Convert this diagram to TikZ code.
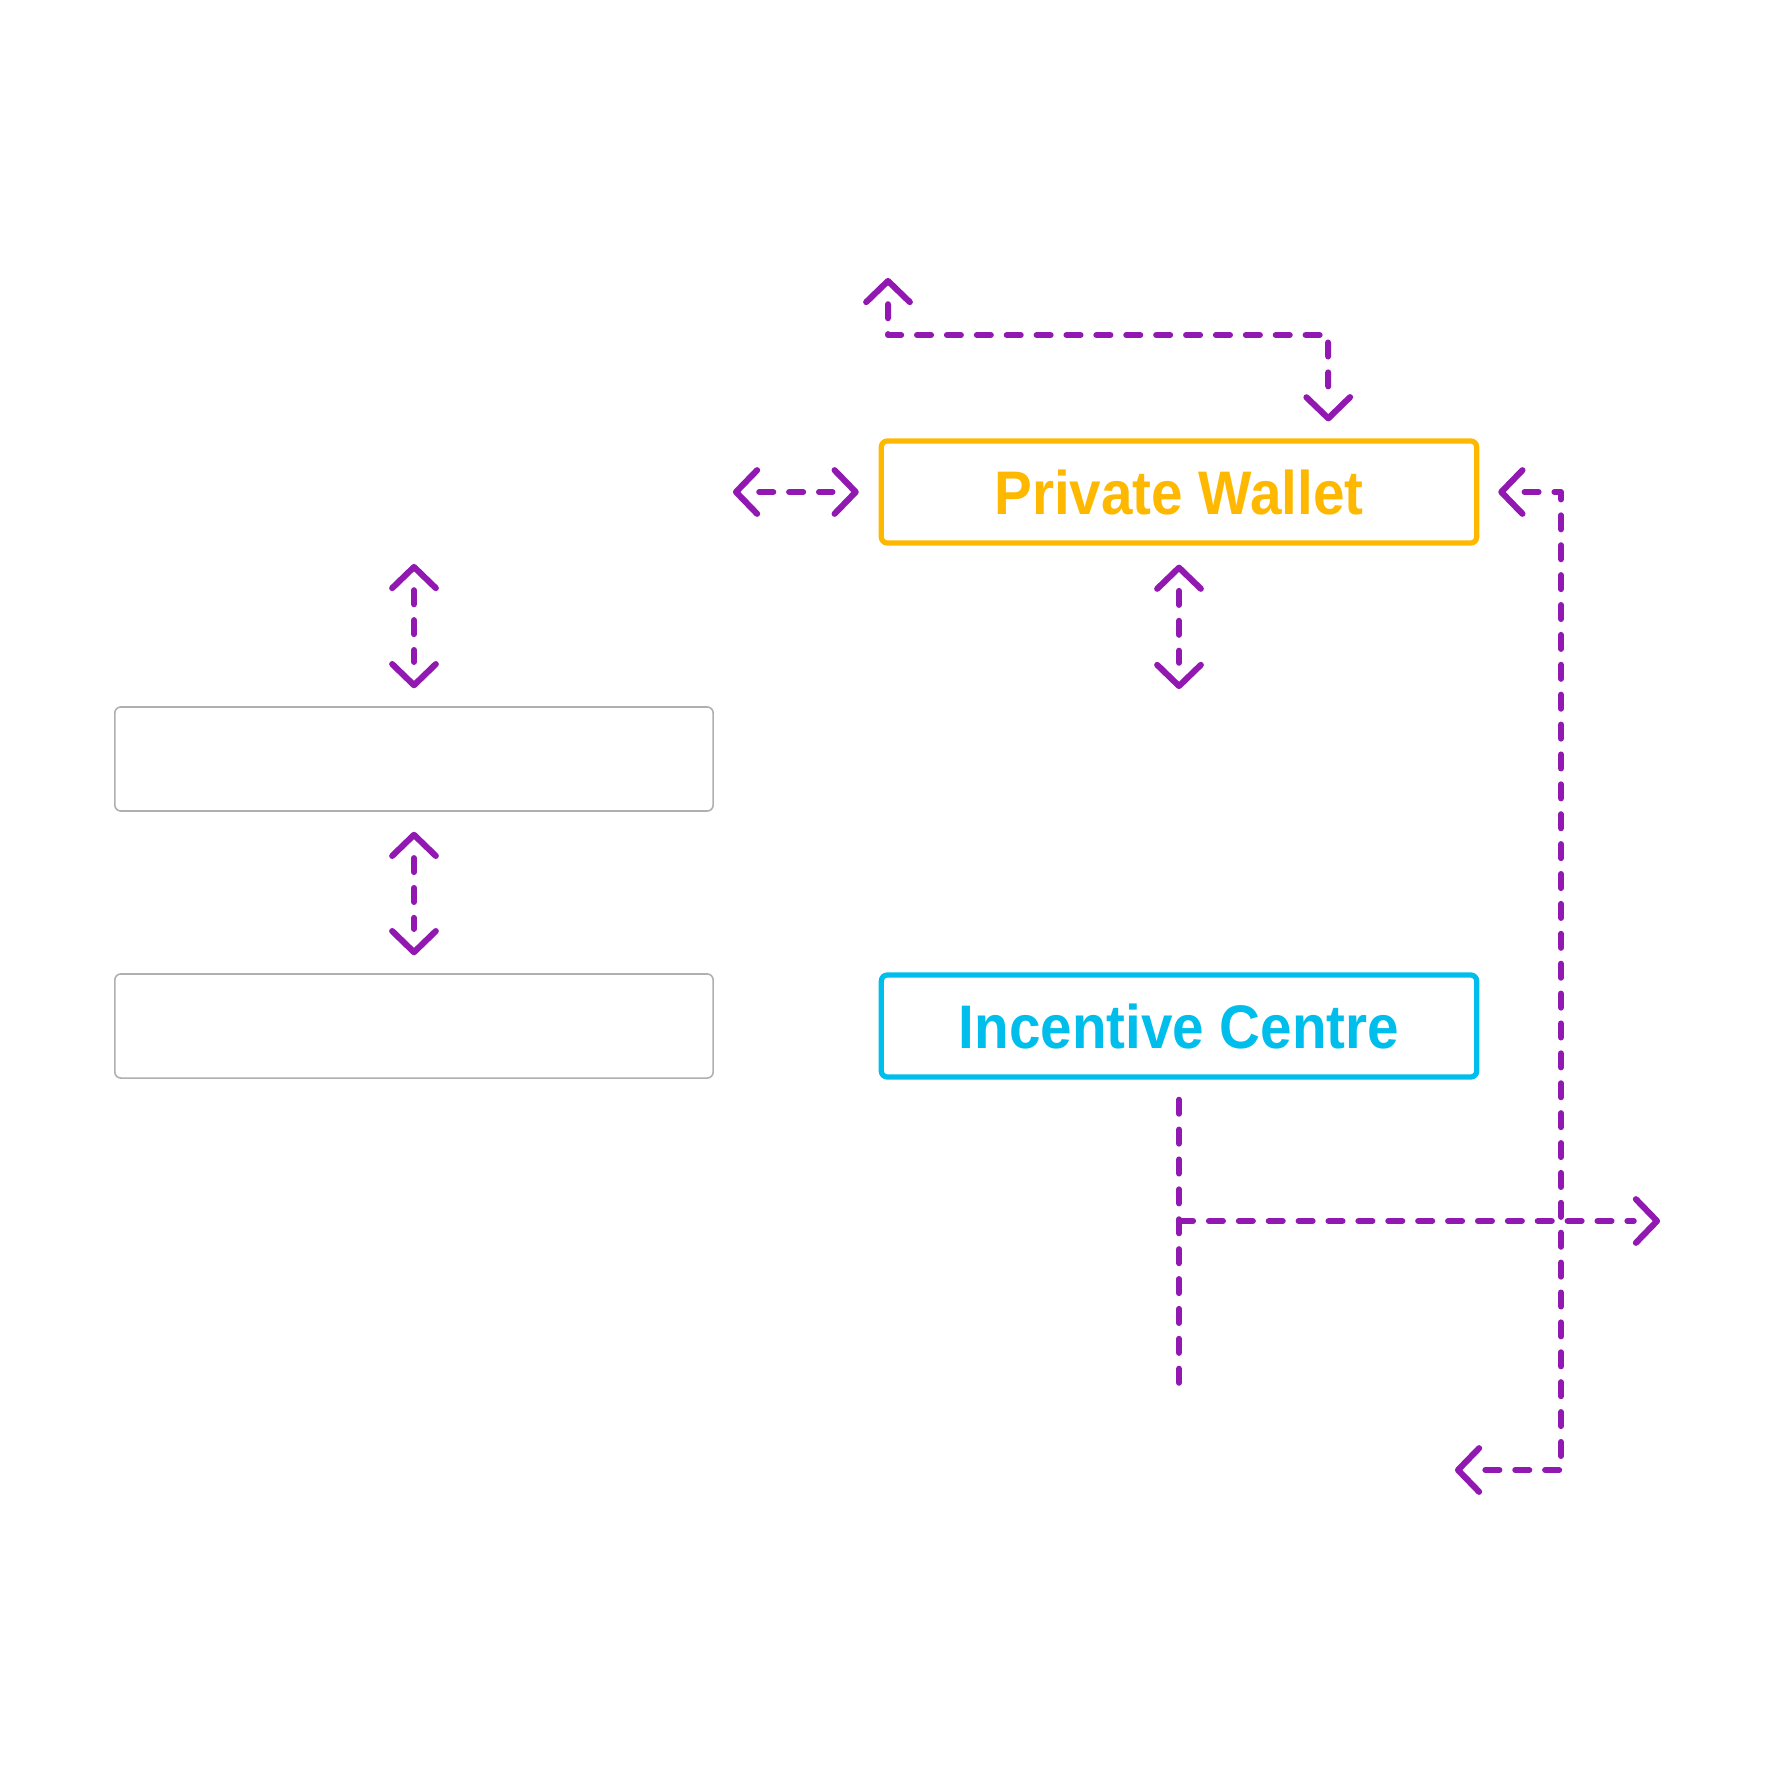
\documentclass[tikz,border=0pt]{standalone}
\usepackage{fontspec}
\usetikzlibrary{arrows.meta, calc}
\newfontfamily\boxfont[FakeStretch=0.92]{Liberation Sans}
\definecolor{walletorange}{RGB}{255,184,0}
\definecolor{centrecyan}{RGB}{0,190,235}
\definecolor{linkpurple}{RGB}{145,25,178}
\definecolor{emptygray}{RGB}{175,175,175}
% open chevron tip, the dashed line stops short of it
\pgfdeclarearrow{
	name = Chevron,
	setup code = {
		\pgfarrowssettipend{0pt}
		\pgfarrowssetbackend{-6pt}
		\pgfarrowssetlineend{-6.6pt}
	},
	drawing code = {
		\pgfsetdash{}{0pt}
		\pgfsetlinewidth{1.75pt}
		\pgfsetroundcap
		\pgfsetroundjoin
		\pgfpathmoveto{\pgfqpoint{-6pt}{6.2pt}}
		\pgfpathlineto{\pgfpointorigin}
		\pgfpathlineto{\pgfqpoint{-6pt}{-6.2pt}}
		\pgfusepathqstroke
	}
}

\begin{document}
\begin{tikzpicture}[x=0.01cm,y=-0.01cm,>=Chevron]
					\tikzstyle{box} = [rectangle,rounded corners=0.06cm,minimum width=5.95cm,minimum height=1.02cm,inner sep=0pt,font=\boxfont\bfseries\fontsize{17.5}{20}\selectfont]
					\tikzstyle{wallet} = [box,draw=walletorange,text=walletorange,line width=1.5pt]
					\tikzstyle{centre} = [box,draw=centrecyan,text=centrecyan,line width=1.5pt]
					\tikzstyle{blank} = [box,draw=emptygray,line width=0.45pt,minimum width=5.98cm,minimum height=1.04cm]
					\tikzstyle{link} = [draw=linkpurple,line width=1.7pt,line cap=round,line join=round,dash pattern=on 4pt off 4.5pt]
					\useasboundingbox (0,0) rectangle (1776,1779);
					\node[wallet] (pw) at (1179,492) {Private Wallet};
					\node[centre] (ic) at (1179,1026) {Incentive Centre};
					\node[blank] (g1) at (414,759) {};
					\node[blank] (g2) at (414,1026) {};
					\coordinate (pwleft) at (736,492);
					\coordinate (pwdown) at (1179,686);
					\coordinate (gtop) at (414,567);
					\coordinate (loopstart) at (888,281);
					\coordinate (looptop) at (1328,335);
					\coordinate (rcorner) at (1561,1470);
					\coordinate (rend) at (1458,1470);
					\coordinate (icend) at (1179,1387);
					\coordinate (icbranch) at (1179,1221);
					\coordinate (icout) at (1657,1221);
					\draw[link,<->] (pwleft)--($(pw.west)+(-23,0)$);
					\draw[link,<->] ($(pw.south)+(0,22)$)--(pwdown);
					\draw[link,<->] (gtop)--($(g1.north)+(0,-21)$);
					\draw[link,<->] ($(g1.south)+(0,23)$)--($(g2.north)+(0,-21)$);
					\draw[link,<->] (loopstart) |- (looptop)--($(pw.north east)+(-151,-20)$);
					\draw[link,<->] ($(pw.east)+(22,0)$) -| (rcorner)--(rend);
					\draw[link] ($(ic.south)+(0,20)$)--(icend);
					\draw[link,->] (icbranch)--(icout);
					\end{tikzpicture}
\end{document}
